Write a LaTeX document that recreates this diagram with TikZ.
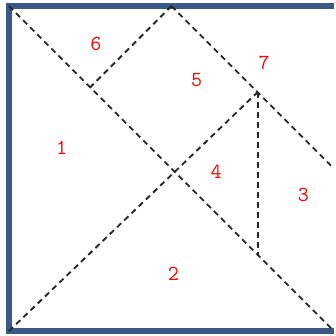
\documentclass[tikz,border=0pt]{standalone}
\usetikzlibrary{positioning}
\definecolor{frameblue}{RGB}{59,89,135}
\begin{document}
\begin{tikzpicture}[
    piece/.style={text=red, font=\ttfamily\fontsize{15}{17}\selectfont},
    cut/.style={draw=black!85, dash pattern=on 4pt off 3pt, line width=1.3pt}]
  \useasboundingbox (-0.22,-0.12) rectangle (8.05,8.15);

  % corners and cut points
  \coordinate (tl) at (0,8);
  \coordinate (bl) at (0,0);
  \coordinate (br) at (8,0);
  \coordinate (tr) at (8,8);
  \coordinate (tm) at (4,8);
  \coordinate (rm) at (8,4);
  \coordinate (top7) at (6.12,5.88);
  \coordinate (foot7) at (6.12,1.88);
  \coordinate (knee6) at (2,6);

  % frame
  \draw[frameblue, line width=4.5pt] (tr) -- (tl) -- (bl) -- (br);

  % cuts
  \draw[cut] (tl) -- (br);
  \draw[cut] (bl) -- (top7);
  \draw[cut] (tm) -- (knee6);
  \draw[cut] (tm) -- (rm);
  \draw[cut] (top7) -- (foot7);

  % piece numbers
  \node[piece] (p1) at (1.30,4.52) {1};
  \node[piece] (p2) at (4.05,1.40) {2};
  \node[piece] (p3) at (7.25,3.35) {3};
  \node[piece] (p4) at (5.10,3.91) {4};
  \node[piece] (p5) at (4.62,6.19) {5};
  \node[piece] (p6) at (2.14,7.08) {6};
  \node[piece] (p7) at (6.28,6.61) {7};
\end{tikzpicture}
\end{document}
